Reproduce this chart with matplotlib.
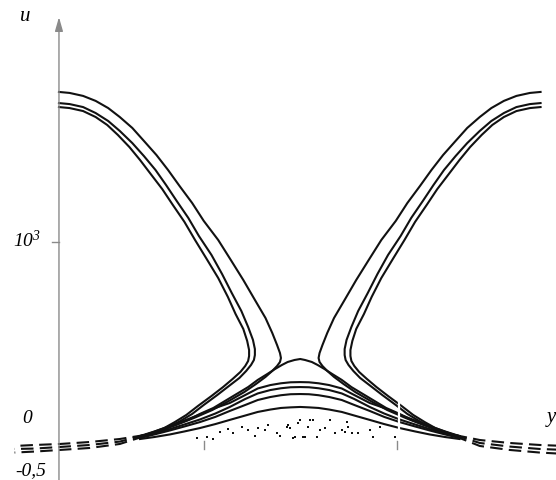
import matplotlib
matplotlib.use('Agg')
import matplotlib.pyplot as plt

plt.rcParams['mathtext.fontset'] = 'custom'
plt.rcParams['mathtext.rm'] = 'Liberation Serif:italic'
plt.rcParams['mathtext.it'] = 'Liberation Serif:italic'

# Left folded curves (outer A, middle B, inner C); u shared with the right ones
A_x = [0.0, 0.11, 0.25, 0.38, 0.51, 0.63, 0.76, 0.88, 1.01, 1.13, 1.25, 1.38, 1.50, 1.65, 1.78, 1.91, 2.03,
       2.14, 2.21, 2.26, 2.29, 2.30, 2.29, 2.26, 2.21, 2.14, 2.04, 1.92, 1.76, 1.59, 1.40, 1.21, 1.03, 0.89]
A_u = [1.754, 1.749, 1.734, 1.709, 1.673, 1.628, 1.573, 1.508, 1.437, 1.362, 1.281, 1.196, 1.106, 1.010, 0.910,
       0.809, 0.709, 0.618, 0.543, 0.482, 0.442, 0.417, 0.397, 0.377, 0.352, 0.322, 0.286, 0.246, 0.201, 0.156,
       0.116, 0.080, 0.050, 0.030]
B_x = [0.0, 0.11, 0.25, 0.38, 0.51, 0.63, 0.76, 0.88, 1.00, 1.11, 1.22, 1.34, 1.45, 1.58, 1.69, 1.79, 1.89,
       1.96, 2.01, 2.03, 2.03, 2.02, 1.99, 1.94, 1.87, 1.76, 1.64, 1.50, 1.38, 1.26, 1.14, 1.02, 0.89]
B_u = [1.698, 1.693, 1.678, 1.648, 1.608, 1.558, 1.497, 1.432, 1.362, 1.286, 1.206, 1.121, 1.030, 0.935, 0.839,
       0.744, 0.653, 0.573, 0.508, 0.462, 0.432, 0.407, 0.382, 0.352, 0.317, 0.276, 0.231, 0.181, 0.136, 0.101,
       0.070, 0.045, 0.025]
C_x = [0.0, 0.11, 0.25, 0.38, 0.50, 0.61, 0.73, 0.84, 0.95, 1.07, 1.18, 1.30, 1.41, 1.53, 1.65, 1.75, 1.83,
       1.91, 1.95, 1.97, 1.97, 1.96, 1.93, 1.88, 1.80, 1.70, 1.58, 1.44, 1.32, 1.20, 1.09, 0.98, 0.89]
C_u = [1.678, 1.673, 1.658, 1.628, 1.588, 1.538, 1.477, 1.412, 1.342, 1.266, 1.186, 1.101, 1.010, 0.915, 0.819,
       0.724, 0.638, 0.563, 0.503, 0.457, 0.427, 0.402, 0.377, 0.347, 0.312, 0.271, 0.226, 0.176, 0.131, 0.095,
       0.065, 0.045, 0.030]

# Right folded curves
RA_x = [4.99, 4.88, 4.74, 4.61, 4.48, 4.36, 4.23, 4.11, 3.98, 3.86, 3.74, 3.61, 3.49, 3.34, 3.21, 3.08, 2.96,
        2.85, 2.78, 2.73, 2.70, 2.69, 2.70, 2.73, 2.78, 2.85, 2.95, 3.07, 3.23, 3.40, 3.59, 3.78, 3.96, 4.10]
RB_x = [4.99, 4.88, 4.74, 4.61, 4.48, 4.36, 4.23, 4.11, 3.99, 3.88, 3.77, 3.65, 3.54, 3.41, 3.30, 3.20, 3.10,
        3.03, 2.98, 2.96, 2.96, 2.97, 3.00, 3.05, 3.12, 3.23, 3.35, 3.49, 3.61, 3.73, 3.85, 3.97, 4.10]
RC_x = [4.99, 4.88, 4.74, 4.61, 4.49, 4.38, 4.26, 4.15, 4.04, 3.92, 3.81, 3.69, 3.58, 3.46, 3.34, 3.24, 3.16,
        3.08, 3.04, 3.02, 3.02, 3.03, 3.06, 3.11, 3.19, 3.29, 3.41, 3.55, 3.67, 3.79, 3.90, 4.01, 4.10]

# Central humps
H1_x = [0.84, 0.94, 1.07, 1.20, 1.34, 1.46, 1.60, 1.72, 1.84, 1.96, 2.06, 2.16, 2.24, 2.31, 2.37, 2.44, 2.50,
        2.55, 2.62, 2.68, 2.75, 2.83, 2.93, 3.03, 3.15, 3.27, 3.39, 3.53, 3.65, 3.79, 3.92, 4.05, 4.15]
H1_u = [0.025, 0.035, 0.055, 0.080, 0.106, 0.136, 0.166, 0.201, 0.236, 0.271, 0.307, 0.337, 0.362, 0.382,
        0.397, 0.407, 0.412, 0.407, 0.397, 0.382, 0.362, 0.337, 0.307, 0.271, 0.236, 0.201, 0.166, 0.136,
        0.106, 0.080, 0.055, 0.035, 0.025]
H_x = [0.84, 0.99, 1.15, 1.30, 1.46, 1.62, 1.77, 1.93, 2.06, 2.19, 2.30, 2.40, 2.50,
       2.59, 2.69, 2.80, 2.93, 3.06, 3.22, 3.37, 3.53, 3.69, 3.84, 4.00, 4.15]
H2_u = [0.025, 0.048, 0.075, 0.103, 0.133, 0.166, 0.191, 0.231, 0.264, 0.281, 0.290, 0.295, 0.296,
        0.295, 0.290, 0.281, 0.264, 0.231, 0.191, 0.166, 0.133, 0.103, 0.075, 0.048, 0.025]
H3_u = [0.020, 0.040, 0.060, 0.083, 0.108, 0.138, 0.171, 0.211, 0.239, 0.256, 0.265, 0.270, 0.271,
        0.270, 0.265, 0.256, 0.239, 0.211, 0.171, 0.138, 0.108, 0.083, 0.060, 0.040, 0.020]
H4_u = [0.015, 0.033, 0.053, 0.073, 0.095, 0.121, 0.151, 0.181, 0.206, 0.221, 0.230, 0.235, 0.236,
        0.235, 0.230, 0.221, 0.206, 0.181, 0.151, 0.121, 0.095, 0.073, 0.053, 0.033, 0.015]
H5_u = [0.010, 0.020, 0.033, 0.048, 0.065, 0.085, 0.106, 0.128, 0.146, 0.158, 0.166, 0.169, 0.171,
        0.169, 0.166, 0.158, 0.146, 0.128, 0.106, 0.085, 0.065, 0.048, 0.033, 0.020, 0.010]

# Dashed tails
LT_x = [0.89, 0.63, 0.32, 0.01, -0.25, -0.46]
LT1_u = [0.030, 0.010, -0.005, -0.015, -0.020, -0.025]
LT2_u = [0.030, -0.003, -0.020, -0.030, -0.038, -0.040]
LT3_u = [0.025, -0.015, -0.035, -0.045, -0.053, -0.058]
RT_x = [4.10, 4.36, 4.67, 4.98, 5.24]
RT1_u = [0.030, 0.005, -0.010, -0.020, -0.025]
RT2_u = [0.030, -0.010, -0.028, -0.040, -0.045]
RT3_u = [0.025, -0.025, -0.045, -0.058, -0.065]

# Stipple dots under the lowest hump
dots_x = [1.43, 1.53, 1.60, 1.67, 1.75, 1.80, 1.90, 1.96, 2.03, 2.06, 2.17, 2.13, 2.26, 2.29,
          2.36, 2.39, 2.45, 2.48, 2.53, 2.58, 2.60, 2.37, 2.50, 2.63, 2.70, 2.76, 2.86, 2.93,
          2.96, 2.99, 3.04, 3.10, 3.22, 3.25, 3.33, 3.48, 2.42, 2.55, 2.67, 2.81, 2.98]
dots_u = [0.015, 0.020, 0.010, 0.045, 0.060, 0.040, 0.070, 0.055, 0.025, 0.065, 0.080, 0.055, 0.040, 0.025,
          0.070, 0.065, 0.020, 0.090, 0.020, 0.070, 0.106, 0.080, 0.106, 0.106, 0.055, 0.065, 0.040, 0.055,
          0.045, 0.070, 0.040, 0.040, 0.055, 0.020, 0.070, 0.020, 0.015, 0.020, 0.020, 0.106, 0.095]

x_ticks = [1.5, 3.5]

fig = plt.figure(figsize=(5.56, 4.8), dpi=100)
ax = fig.add_axes([0, 0, 1, 1])
ax.set_xlim(-0.611, 5.15)
ax.set_ylim(-0.196, 2.216)
ax.axis('off')

axis_color = '#8a8a8a'
line_color = '#111111'
serif = 'Liberation Serif'

# axes with arrows
ax.annotate('', xy=(0, 2.13), xytext=(0, -0.196),
            arrowprops=dict(arrowstyle='-|>,head_length=0.7,head_width=0.2',
                            color=axis_color, lw=1.0, mutation_scale=12,
                            shrinkA=0, shrinkB=0))
ax.annotate('', xy=(5.22, 0), xytext=(-0.32, 0),
            arrowprops=dict(arrowstyle='-|>,head_length=0.7,head_width=0.2',
                            color=axis_color, lw=1.0, mutation_scale=12,
                            shrinkA=0, shrinkB=0))
for xt in x_ticks:
    ax.plot([xt, xt], [0, -0.04], color=axis_color, lw=1.0)
ax.plot([-0.07, 0], [1, 1], color=axis_color, lw=1.0)

# folded curves
for cx, cu in [(A_x, A_u), (B_x, B_u), (C_x, C_u),
               (RA_x, A_u), (RB_x, B_u), (RC_x, C_u)]:
    ax.plot(cx, cu, color=line_color, lw=1.5)

# humps
ax.plot(H1_x, H1_u, color=line_color, lw=1.5)
for hu in [H2_u, H3_u, H4_u, H5_u]:
    ax.plot(H_x, hu, color=line_color, lw=1.5)

# dashed tails
for tu in [LT1_u, LT2_u, LT3_u]:
    ax.plot(LT_x, tu, color=line_color, lw=1.5, dashes=(6, 3))
for tu in [RT1_u, RT2_u, RT3_u]:
    ax.plot(RT_x, tu, color=line_color, lw=1.5, dashes=(6, 3))

# stipple
ax.plot(dots_x, dots_u, 's', color=line_color, markersize=1.6, markeredgewidth=0)

# small white break in the curves near the right tick
ax.plot([3.52, 3.52], [0.005, 0.2], color='white', lw=1.6)

# labels
ax.text(-0.352, 2.131, 'u', fontsize=15, family=serif, style='italic', ha='center', va='center')
ax.text(-0.33, 1.005, r'$10^{3}$', fontsize=14, ha='center', va='center')
ax.text(-0.33, 0.111, '0', fontsize=14, family=serif, style='italic', ha='center', va='center')
ax.text(-0.29, -0.151, '-0,5', fontsize=14, family=serif, style='italic', ha='center', va='center')
ax.text(5.05, 0.116, 'y', fontsize=15, family=serif, style='italic', ha='left', va='center')

fig.savefig('out.png', dpi=100)
